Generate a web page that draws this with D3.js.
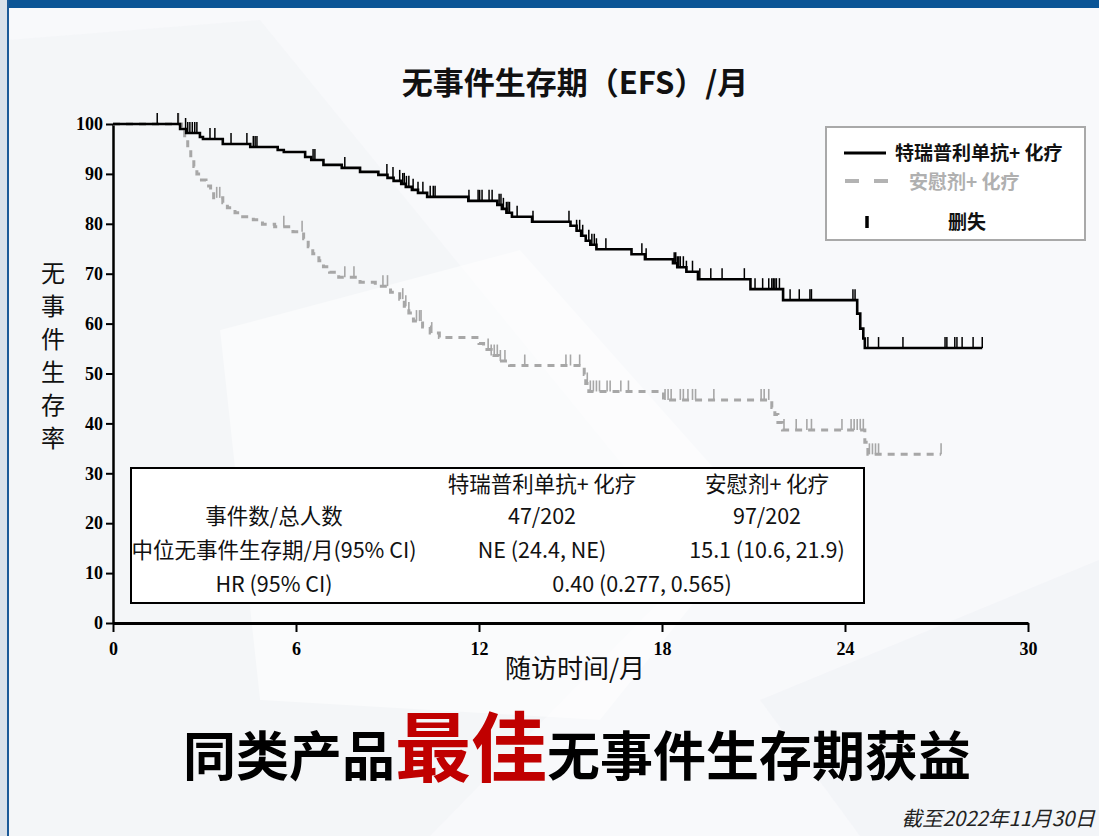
<!DOCTYPE html>
<html>
<head>
<meta charset="utf-8">
<script src="https://cdn.jsdelivr.net/npm/d3@7"></script>
<style>
  html, body { margin: 0; padding: 0; background: #f8f9fb; }
  svg { display: block; }
</style>
</head>
<body>
<svg id="chart" width="1099" height="836"></svg>
<script>
// ---- Kaplan–Meier data (time in months, survival in %) ----
const treatTimes = [0, 2.2, 2.4, 2.85, 2.95, 3.6, 4.5, 5.4, 5.6, 6.3, 6.5, 6.9, 7.5, 8.1, 8.7, 9.0, 9.2, 9.45, 9.6, 9.8, 10.0, 10.3, 11.65, 12.6, 12.75, 12.9, 13.08, 13.74, 15.0, 15.2, 15.35, 15.5, 15.65, 15.85, 17.0, 17.44, 18.36, 18.5, 18.8, 19.18, 20.9, 21.97, 24.4, 24.5, 24.6, 24.65];
const treatSurv  = [100, 99.0, 98.2, 97.4, 97.0, 96.0, 95.4, 94.8, 94.4, 93.4, 92.8, 91.8, 91.2, 90.4, 89.8, 89.2, 88.6, 88.0, 87.4, 86.8, 86.2, 85.4, 84.6, 83.8, 83.0, 82.2, 81.4, 80.4, 79.6, 78.6, 77.6, 76.6, 75.8, 74.9, 73.9, 72.9, 72.1, 71.3, 70.4, 68.9, 66.9, 64.7, 62.0, 59.0, 57.0, 55.1];
const treatEnd = 28.5;
const treatCensor = [1.45, 2.13, 2.38, 2.45, 2.52, 2.6, 2.68, 2.75, 3.18, 3.34, 3.87, 4.39, 4.6, 4.66, 4.72, 6.56, 6.62, 7.6, 8.98, 9.18, 9.4, 9.5, 9.55, 9.62, 9.7, 9.84, 10.0, 10.16, 10.4, 10.5, 10.56,
  11.67, 11.97, 12.02, 12.1, 12.33, 12.43, 12.66, 12.72, 12.8, 12.9, 12.95, 13.0, 13.25, 13.77, 14.95, 15.2, 15.3, 15.4, 15.6, 15.7, 15.78, 15.85, 16.16, 17.34, 17.48,
  18.4, 18.45, 18.5, 18.55, 18.6, 18.7, 18.8, 19.0, 19.24, 19.6, 19.97, 20.7, 21.05, 21.3, 21.5, 21.6, 21.65, 21.7, 21.75, 21.85, 21.97, 22.2, 22.5, 22.85, 22.9,
  24.26, 24.33, 24.75, 25.1, 25.9, 27.28, 27.34, 27.6, 27.67, 27.84, 28.2, 28.5];

const placeboTimes = [0, 2.25, 2.35, 2.45, 2.55, 2.65, 2.75, 2.9, 3.05, 3.2, 3.3, 3.6, 3.75, 4.0, 4.2, 4.6, 4.9, 5.3, 5.9, 6.25, 6.4, 6.55, 6.75, 6.9, 7.1, 7.4, 8.1, 8.6, 9.1, 9.4, 9.55, 9.7, 9.85, 10.15, 10.4, 10.7, 12.0, 12.15, 12.4, 12.65, 13.0, 15.45, 15.5, 15.6, 18.05, 21.6, 21.7, 21.8, 21.95, 24.65, 24.75];
const placeboSurv  = [100, 99.0, 97.0, 95.0, 93.0, 91.5, 90.0, 88.8, 87.6, 86.4, 85.2, 84.2, 83.2, 82.2, 81.4, 80.8, 79.9, 79.4, 78.4, 77.0, 75.4, 74.0, 72.6, 71.4, 70.3, 69.3, 68.3, 67.5, 66.3, 64.9, 63.5, 62.1, 60.5, 59.3, 58.1, 57.2, 56.0, 54.8, 53.6, 52.5, 51.6, 49.8, 48.0, 46.4, 44.7, 43.2, 41.8, 40.2, 38.7, 36.2, 33.8];
const placeboEnd = 27.15;
const placeboCensor = [2.15, 3.4, 3.5, 5.6, 6.2, 7.6, 7.9, 8.85, 9.0, 9.5, 9.6, 9.7, 9.95, 10.05, 10.1, 10.45, 12.3, 12.4, 12.5, 12.6, 12.7, 12.85, 13.5, 14.85, 15.0, 15.3,
  15.55, 15.65, 15.75, 15.85, 15.95, 16.2, 16.3, 16.65, 16.9, 18.1, 18.2, 18.3, 18.6, 18.7, 18.85, 19.0, 19.1, 19.7, 21.25, 21.35, 21.5,
  22.0, 22.4, 22.75, 22.9, 23.9, 24.2, 24.3, 24.4, 24.5, 24.6, 24.8, 24.9, 25.0, 25.1, 27.15];

// ---- Axis ticks and labels ----
const xTicks = [0, 6, 12, 18, 24, 30];
const yTicks = [0, 10, 20, 30, 40, 50, 60, 70, 80, 90, 100];

const chartTitle = "无事件生存期（EFS）/月";
const xTitle = "随访时间/月";
const yTitle = "无事件生存率";

const legendLabels = ["特瑞普利单抗+ 化疗", "安慰剂+ 化疗", "删失"];

const tableHeader = ["特瑞普利单抗+ 化疗", "安慰剂+ 化疗"];
const tableRowLabels = ["事件数/总人数", "中位无事件生存期/月(95% CI)", "HR (95% CI)"];
const tableTreat = ["47/202", "NE (24.4, NE)"];
const tablePlacebo = ["97/202", "15.1 (10.6, 21.9)"];
const tableHR = "0.40 (0.277, 0.565)";

const headlineParts = [
  { text: "同类产品", accent: false },
  { text: "最佳", accent: true },
  { text: "无事件生存期获益", accent: false }
];
const footnote = "截至2022年11月30日";

// ---- Setup ----
const svg = d3.select("#chart");
const W = 1099, H = 836;
const CJK = "'Noto Sans CJK SC', 'Noto Sans', sans-serif";
const SERIF = "'Liberation Serif', 'DejaVu Serif', serif";

// slide background with faint watermark shapes
svg.append("rect").attr("width", W).attr("height", H).attr("fill", "#f8f9fb");
const bg = svg.append("g");
bg.append("path").attr("d", "M8,40 L260,20 L700,560 L430,836 L8,836 Z").attr("fill", "#f2f4f7").attr("opacity", 0.6);
bg.append("path").attr("d", "M220,330 L520,250 L760,520 L600,720 L260,700 Z").attr("fill", "#ffffff").attr("opacity", 0.5);
bg.append("path").attr("d", "M760,700 L1099,560 L1099,836 L860,836 Z").attr("fill", "#f0f2f6").attr("opacity", 0.6);

// frame
svg.append("rect").attr("x", 0).attr("y", 0).attr("width", W).attr("height", 8).attr("fill", "#0b5596");
svg.append("rect").attr("x", 0).attr("y", 0).attr("width", 8).attr("height", H).attr("fill", "#d9e1ea");
svg.append("line").attr("x1", 8).attr("x2", 8).attr("y1", 0).attr("y2", H).attr("stroke", "#1c5a98").attr("stroke-width", 2);

// ---- Scales ----
const x = d3.scaleLinear().domain([0, 30]).range([113, 1028]);
const y = d3.scaleLinear().domain([0, 100]).range([623, 124]);

// ---- Title ----
svg.append("text")
  .attr("x", 575).attr("y", 94)
  .attr("text-anchor", "middle")
  .attr("font-family", CJK).attr("font-weight", 700).attr("font-size", 31)
  .attr("fill", "#111")
  .text(chartTitle);

// ---- Axes ----
const xAxis = svg.append("g")
  .attr("transform", `translate(0,${y(0)})`)
  .call(d3.axisBottom(x).tickValues(xTicks).tickSize(9).tickSizeOuter(0).tickPadding(10));
xAxis.select(".domain").attr("stroke", "#000").attr("stroke-width", 3);
xAxis.selectAll(".tick line").attr("stroke", "#000").attr("stroke-width", 2);
xAxis.selectAll(".tick text")
  .attr("font-family", SERIF).attr("font-weight", 700).attr("font-size", 18).attr("fill", "#000");

const yAxis = svg.append("g")
  .attr("transform", `translate(${x(0)},0)`)
  .call(d3.axisLeft(y).tickValues(yTicks).tickSize(7).tickSizeOuter(0).tickPadding(3));
yAxis.select(".domain").attr("stroke", "#000").attr("stroke-width", 2.5);
yAxis.selectAll(".tick line").attr("stroke", "#000").attr("stroke-width", 2);
yAxis.selectAll(".tick text")
  .attr("font-family", SERIF).attr("font-weight", 700).attr("font-size", 18).attr("fill", "#000");

// axis titles
svg.append("text")
  .attr("x", 575).attr("y", 678)
  .attr("text-anchor", "middle")
  .attr("font-family", CJK).attr("font-size", 26).attr("fill", "#111")
  .text(xTitle);

svg.append("g").selectAll("text")
  .data(Array.from(yTitle))
  .join("text")
  .attr("x", 53)
  .attr("y", (d, i) => 282 + i * 33)
  .attr("text-anchor", "middle")
  .attr("font-family", CJK).attr("font-size", 24).attr("fill", "#111")
  .text(d => d);

// ---- Survival curves ----
function stepPoints(times, surv, end) {
  const pts = times.map((t, i) => [t, surv[i]]);
  pts.push([end, surv[surv.length - 1]]);
  return pts;
}
function survAt(times, surv, t) {
  let v = surv[0];
  for (let i = 0; i < times.length; i++) if (times[i] <= t) v = surv[i];
  return v;
}
const line = d3.line().x(d => x(d[0])).y(d => y(d[1])).curve(d3.curveStepAfter);
const tickLen = 11;

const placeboG = svg.append("g");
placeboG.append("path")
  .datum(stepPoints(placeboTimes, placeboSurv, placeboEnd))
  .attr("d", line)
  .attr("fill", "none").attr("stroke", "#a7a7a7").attr("stroke-width", 3)
  .attr("stroke-dasharray", "7,6");
placeboG.selectAll("line")
  .data(placeboCensor)
  .join("line")
  .attr("x1", d => x(d)).attr("x2", d => x(d))
  .attr("y1", d => y(survAt(placeboTimes, placeboSurv, d)))
  .attr("y2", d => y(survAt(placeboTimes, placeboSurv, d)) - tickLen)
  .attr("stroke", "#a7a7a7").attr("stroke-width", 1.6);

const treatG = svg.append("g");
treatG.append("path")
  .datum(stepPoints(treatTimes, treatSurv, treatEnd))
  .attr("d", line)
  .attr("fill", "none").attr("stroke", "#000").attr("stroke-width", 2.6);
treatG.selectAll("line")
  .data(treatCensor)
  .join("line")
  .attr("x1", d => x(d)).attr("x2", d => x(d))
  .attr("y1", d => y(survAt(treatTimes, treatSurv, d)))
  .attr("y2", d => y(survAt(treatTimes, treatSurv, d)) - tickLen)
  .attr("stroke", "#000").attr("stroke-width", 1.5);

// ---- Legend ----
const lg = svg.append("g");
lg.append("rect").attr("x", 826).attr("y", 127).attr("width", 259).attr("height", 113)
  .attr("fill", "#ffffff").attr("stroke", "#a9a9a9").attr("stroke-width", 2);
lg.append("line").attr("x1", 844).attr("x2", 886).attr("y1", 153).attr("y2", 153)
  .attr("stroke", "#000").attr("stroke-width", 3);
lg.append("text").attr("x", 895).attr("y", 160)
  .attr("font-family", CJK).attr("font-weight", 700).attr("font-size", 19).attr("fill", "#111")
  .text(legendLabels[0]);
lg.append("line").attr("x1", 845).attr("x2", 889).attr("y1", 181).attr("y2", 181)
  .attr("stroke", "#b3b3b3").attr("stroke-width", 4).attr("stroke-dasharray", "14,15");
lg.append("text").attr("x", 909).attr("y", 189)
  .attr("font-family", CJK).attr("font-weight", 700).attr("font-size", 19).attr("fill", "#b0b0b0")
  .text(legendLabels[1]);
lg.append("line").attr("x1", 867).attr("x2", 867).attr("y1", 216).attr("y2", 228)
  .attr("stroke", "#000").attr("stroke-width", 3.5);
lg.append("text").attr("x", 948).attr("y", 229)
  .attr("font-family", CJK).attr("font-weight", 700).attr("font-size", 19).attr("fill", "#111")
  .text(legendLabels[2]);

// ---- Summary table ----
const tb = svg.append("g").attr("font-family", CJK).attr("font-size", 21.5).attr("fill", "#111");
tb.append("rect").attr("x", 131).attr("y", 468).attr("width", 733).attr("height", 135)
  .attr("fill", "#ffffff").attr("stroke", "#000").attr("stroke-width", 2);
const colTreat = 542, colPlacebo = 767, colLabel = 274;
const rowY = [492, 524, 558, 592];
tb.append("text").attr("x", colTreat).attr("y", rowY[0]).attr("text-anchor", "middle").text(tableHeader[0]);
tb.append("text").attr("x", colPlacebo).attr("y", rowY[0]).attr("text-anchor", "middle").text(tableHeader[1]);
tableRowLabels.forEach((lab, i) => {
  tb.append("text").attr("x", colLabel).attr("y", rowY[i + 1]).attr("text-anchor", "middle").text(lab);
});
tableTreat.forEach((v, i) => {
  tb.append("text").attr("x", colTreat).attr("y", rowY[i + 1]).attr("text-anchor", "middle").text(v);
});
tablePlacebo.forEach((v, i) => {
  tb.append("text").attr("x", colPlacebo).attr("y", rowY[i + 1]).attr("text-anchor", "middle").text(v);
});
tb.append("text").attr("x", 642).attr("y", rowY[3]).attr("text-anchor", "middle").text(tableHR);

// ---- Headline ----
const hl = svg.append("text")
  .attr("x", 577).attr("y", 776)
  .attr("text-anchor", "middle")
  .attr("font-family", CJK).attr("font-weight", 700);
headlineParts.forEach(p => {
  hl.append("tspan")
    .attr("font-size", p.accent ? 76 : 53)
    .attr("fill", p.accent ? "#c00000" : "#000")
    .text(p.text);
});

// ---- Footnote (right-aligned so it stays inside the slide) ----
svg.append("text")
  .attr("x", 1095).attr("y", 826)
  .attr("text-anchor", "end")
  .attr("font-family", CJK).attr("font-style", "italic").attr("font-size", 20.5).attr("fill", "#222")
  .text(footnote);
</script>
</body>
</html>
